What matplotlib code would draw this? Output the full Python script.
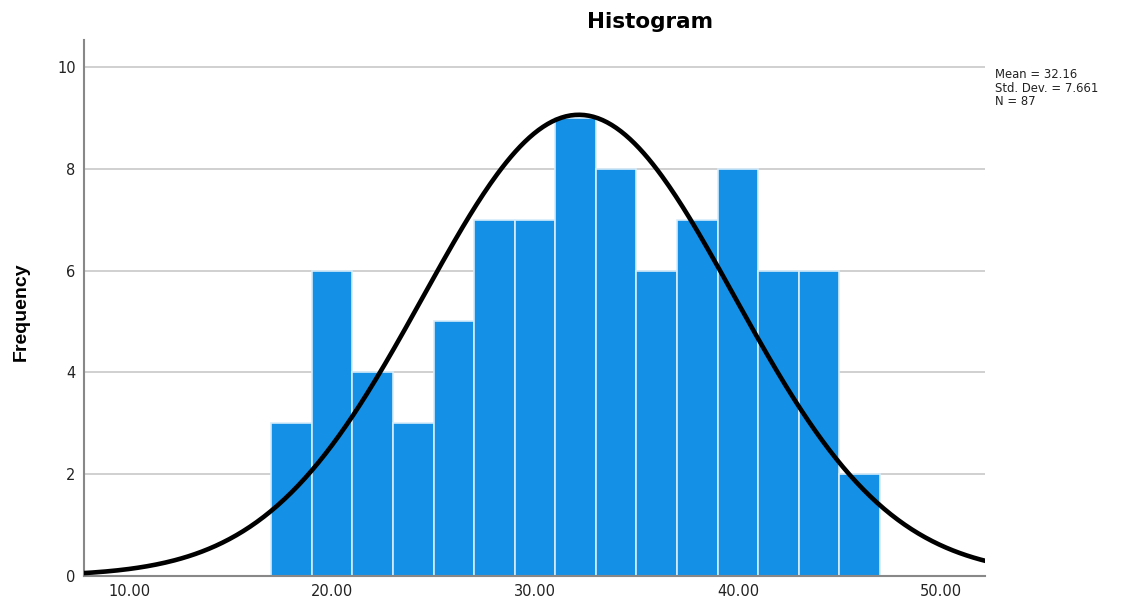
import numpy as np
import matplotlib
matplotlib.use("Agg")
from matplotlib import pyplot as plt

# Histogram bins (width 2) and counts
bin_edges = [17, 19, 21, 23, 25, 27, 29, 31, 33, 35, 37, 39, 41, 43, 45, 47]
counts = [3, 6, 4, 3, 5, 7, 7, 9, 8, 6, 7, 8, 6, 6, 2]
mean = 32.16
std_dev = 7.661
n = 87
x_ticks = [10, 20, 30, 40, 50]
y_ticks = [0, 2, 4, 6, 8, 10]

plt.rcParams['font.family'] = ['DejaVu Sans']

fig = plt.figure(figsize=(11.28, 5.99), dpi=100)
ax = fig.add_axes([84 / 1128, 23 / 599, 901 / 1128, 536 / 599])

lefts = np.array(bin_edges[:-1])
widths = np.diff(bin_edges)
ax.bar(lefts, counts, width=widths, align='edge', color='#1490e6',
       edgecolor='#d6ecfb', linewidth=1.2, zorder=2)

# Fitted normal curve scaled to counts
xs = np.linspace(7.5, 52.5, 400)
bw = widths[0]
ys = n * bw / (std_dev * np.sqrt(2 * np.pi)) * np.exp(-0.5 * ((xs - mean) / std_dev) ** 2)
ax.plot(xs, ys, color='black', linewidth=3.3, zorder=3)

ax.set_xlim(7.78, 52.17)
ax.set_ylim(0, 10.53)
ax.set_xticks(x_ticks)
ax.set_xticklabels([f"{t:.2f}" for t in x_ticks])
ax.set_yticks(y_ticks)
ax.tick_params(length=0, labelsize=10.5, pad=6, labelcolor='#222222')
for t in y_ticks[1:]:
    ax.axhline(t, color='#c8c8c8', linewidth=1.2, zorder=1)

for s in ['top', 'right']:
    ax.spines[s].set_visible(False)
ax.spines['left'].set_color('#888888')
ax.spines['bottom'].set_color('#888888')
ax.spines['left'].set_linewidth(1.5)
ax.spines['bottom'].set_linewidth(1.5)

fig.text(21 / 1128, 1 - 312 / 599, "Frequency", rotation=90, ha='center',
         va='center', fontsize=14, fontweight='bold', family='Liberation Sans')
fig.text(650 / 1128, 1 - 22 / 599, "Histogram", ha='center', va='center',
         fontsize=15.5, fontweight='bold')
fig.text(995 / 1128, 1 - 68 / 599,
         f"Mean = {mean}\nStd. Dev. = {std_dev}\nN = {n}",
         ha='left', va='top', fontsize=8.4, linespacing=1.05,
         color='#222222')

fig.savefig("out.png", dpi=100)
